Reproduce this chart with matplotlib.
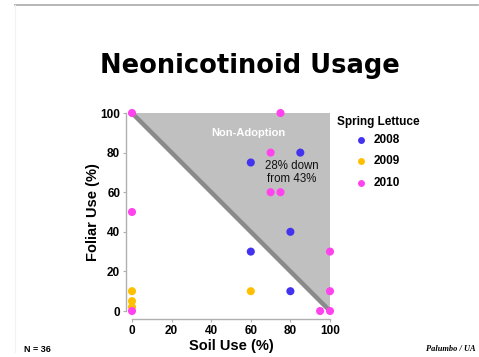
import matplotlib
matplotlib.use("Agg")
import matplotlib.pyplot as plt
from matplotlib.lines import Line2D
from matplotlib.patches import Polygon

# Soil vs foliar neonicotinoid use, spring lettuce
soil_2008 = [60, 85, 80, 60, 80]
foliar_2008 = [75, 80, 40, 30, 10]

soil_2009 = [0, 0, 0, 60]
foliar_2009 = [10, 5, 2, 10]

soil_2010 = [0, 75, 70, 70, 75, 0, 100, 100, 95, 100, 0]
foliar_2010 = [100, 100, 80, 60, 60, 50, 30, 10, 0, 0, 0]

years = ["2008", "2009", "2010"]
colors = ["#4433ee", "#ffc000", "#ff44ee"]
ticks = [0, 20, 40, 60, 80, 100]

SANS = "Liberation Sans"

W, H = 479, 357
fig = plt.figure(figsize=(W / 100, H / 100), dpi=100)
fig.patch.set_facecolor("white")

# slide frame lines
fig.add_artist(Line2D([15 / W, 478 / W], [1 - 5 / H, 1 - 5 / H], color="#aaaaaa", lw=1.2))
fig.add_artist(Line2D([15 / W, 15 / W], [1 - 5 / H, 1 - 352 / H], color="#f2f2f2", lw=0.8))

ax = fig.add_axes([132 / W, 1 - 311 / H, 198 / W, 198 / H])
ax.set_xlim(0, 100)
ax.set_ylim(0, 100)

# non-adoption region above the diagonal
ax.add_patch(Polygon([[0, 100], [100, 100], [100, 0]], closed=True,
                     facecolor="#c0c0c0", edgecolor="none", zorder=1))
ax.plot([0, 100], [100, 0], color="#8a8a8a", lw=3.2, zorder=2,
        solid_capstyle="butt")

for sx, fy, c in [(soil_2008, foliar_2008, colors[0]),
                  (soil_2009, foliar_2009, colors[1]),
                  (soil_2010, foliar_2010, colors[2])]:
    ax.scatter(sx, fy, s=34, color=c, edgecolors="none", zorder=3, clip_on=False)

ax.text(59, 90, "Non-Adoption", color="white", fontsize=8, fontweight="bold",
        family=SANS, ha="center", va="center", zorder=4)
ax.text(80.5, 70, "28% down\nfrom 43%", color="#111111", fontsize=8.3,
        family=SANS, ha="center", va="center", linespacing=1.05, zorder=4)

for side in ["top", "right"]:
    ax.spines[side].set_visible(False)
ax.spines["left"].set_position(("outward", 4.5))
ax.spines["bottom"].set_position(("outward", 5.8))
for side in ["left", "bottom"]:
    ax.spines[side].set_color("#b0b0b0")
    ax.spines[side].set_linewidth(1.0)
ax.set_facecolor("none")

ax.set_xticks(ticks)
ax.set_yticks(ticks)
ax.set_xticklabels([str(t) for t in ticks], fontsize=8.5, fontweight="bold", family=SANS)
ax.set_yticklabels([str(t) for t in ticks], fontsize=8.5, fontweight="bold", family=SANS)
ax.tick_params(axis="both", length=2.5, width=0.8, color="#b0b0b0", pad=1.5)

ax.set_xlabel("Soil Use (%)", fontsize=10.5, fontweight="bold", family=SANS, labelpad=1.5)
ax.set_ylabel("Foliar Use (%)", fontsize=10.5, fontweight="bold", family=SANS, labelpad=0.5)

fig.text(250 / W, 1 - 66 / H, "Neonicotinoid Usage", fontsize=18.5, fontweight="bold",
         ha="center", va="center")

# legend
fig.text(337 / W, 1 - 122 / H, "Spring Lettuce", fontsize=8.5, fontweight="bold",
         family=SANS, ha="left", va="center")
for i, (yr, c) in enumerate(zip(years, colors)):
    yy = 1 - (140 + i * 21.5) / H
    fig.add_artist(Line2D([361 / W], [yy], marker="o", markersize=5,
                          color=c, markeredgewidth=0, linestyle="none"))
    fig.text(374 / W, yy, yr, fontsize=8.5, fontweight="bold", family=SANS,
             ha="left", va="center")

fig.text(24 / W, 1 - 350 / H, "N = 36", fontsize=6.5, fontweight="bold", family=SANS,
         ha="left", va="center")
fig.text(476 / W, 1 - 349 / H, "Palumbo / UA", fontsize=6, fontweight="bold",
         style="italic", family="Liberation Serif", ha="right", va="center")

fig.savefig("out.png", dpi=100, facecolor="white")
